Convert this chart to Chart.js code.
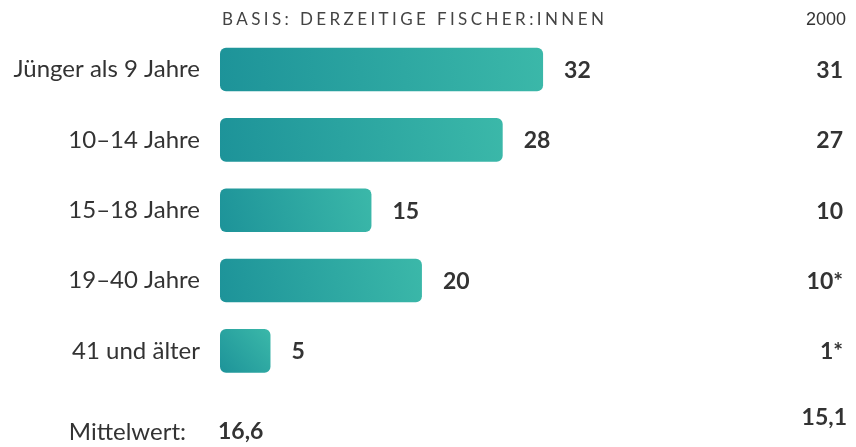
<!DOCTYPE html>
<html lang="de">
<head>
  <meta charset="UTF-8" />
  <title>Alter beim Einstieg ins Fischen</title>
  <script src="https://cdn.jsdelivr.net/npm/chart.js"></script>
  <style>
    html, body { margin: 0; padding: 0; background: #fff; }
    #wrap { width: 856px; height: 447px; position: relative; }
  </style>
</head>
<body>
  <div id="wrap"><canvas id="chart"></canvas></div>
  <script>
    // Daten
    const categories = ["Jünger als 9 Jahre", "10–14 Jahre", "15–18 Jahre", "19–40 Jahre", "41 und älter"];
    const values = [32, 28, 15, 20, 5];
    const values2000 = [31, 27, 10, 10, 1];
    const marks2000 = ["", "", "", "*", "*"];
    const meanNow = 16.6;
    const mean2000 = 15.1;
    const basisText = "BASIS: DERZEITIGE FISCHER:INNEN";
    const compareYear = "2000";

    const textColor = "#333333";
    const fmt = v => v.toString().replace(".", ",");

    function barGradient(ctx) {
      const chart = ctx.chart;
      if (!chart.chartArea || ctx.type !== "data") return "#2aa6a2";
      const xs = chart.scales.x, ys = chart.scales.y;
      const x0 = xs.getPixelForValue(0);
      const x1 = xs.getPixelForValue(values[ctx.dataIndex]);
      const yc = ys.getPixelForValue(ctx.dataIndex);
      const g = chart.ctx.createLinearGradient(x0, yc + 22, x1, yc - 22);
      g.addColorStop(0, "#1d9399");
      g.addColorStop(1, "#3bb8a9");
      return g;
    }

    const extraText = {
      id: "extraText",
      afterDatasetsDraw(chart) {
        const ctx = chart.ctx;
        const meta = chart.getDatasetMeta(0);
        ctx.save();
        ctx.fillStyle = textColor;
        ctx.textBaseline = "middle";

        // Werte hinter den Balken
        ctx.font = "bold 23px Lato";
        ctx.textAlign = "left";
        meta.data.forEach((bar, i) => {
          ctx.fillText(values[i], bar.x + 21, bar.y + 1);
        });

        // Spalte 2000
        ctx.textAlign = "right";
        meta.data.forEach((bar, i) => {
          ctx.fillText(values2000[i] + marks2000[i], 843, bar.y + 1);
        });
        ctx.fillText(fmt(mean2000), 847, 418);

        // Mittelwert
        ctx.textAlign = "left";
        ctx.fillText(fmt(meanNow), 218, 432);
        ctx.font = "24px Lato";
        ctx.textAlign = "right";
        ctx.fillText("Mittelwert:", 186, 432);

        // Kopfzeile
        ctx.fillStyle = "#444444";
        ctx.font = "17px Lato";
        ctx.textAlign = "left";
        ctx.letterSpacing = "3.4px";
        ctx.fillText(basisText, 222, 20);
        ctx.letterSpacing = "0px";
        ctx.font = "18px 'Liberation Sans'";
        ctx.textAlign = "right";
        ctx.fillStyle = textColor;
        ctx.fillText(compareYear, 846, 20);
        ctx.restore();
      }
    };

    new Chart(document.getElementById("chart"), {
      type: "bar",
      data: {
        labels: categories,
        datasets: [{
          data: values,
          backgroundColor: barGradient,
          borderRadius: 6,
          borderSkipped: false,
          barPercentage: 0.62,
          categoryPercentage: 1
        }]
      },
      options: {
        indexAxis: "y",
        responsive: true,
        maintainAspectRatio: false,
        animation: false,
        layout: { padding: { top: 30, bottom: 61, right: 6, left: 0 } },
        plugins: {
          legend: { display: false },
          tooltip: { enabled: false }
        },
        scales: {
          x: {
            display: false,
            min: 0,
            max: 62.4
          },
          y: {
            grid: { display: false, drawTicks: false },
            border: { display: false },
            afterFit: scale => { scale.width = 220; },
            ticks: {
              padding: 20,
              color: textColor,
              font: { family: "Lato", size: 24 }
            }
          }
        }
      },
      plugins: [extraText]
    });
  </script>
</body>
</html>
